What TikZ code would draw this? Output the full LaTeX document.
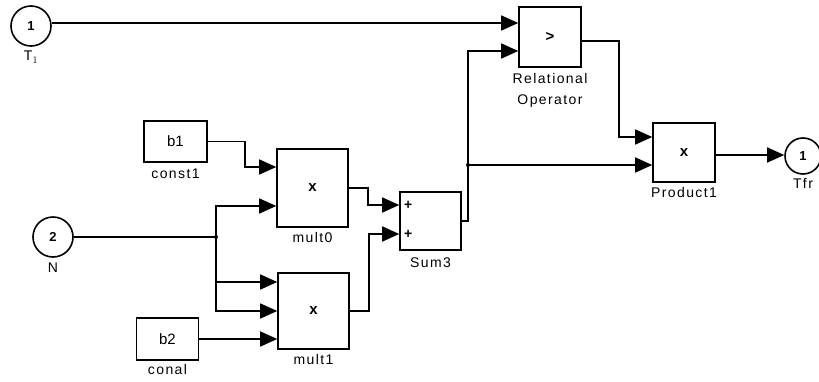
\documentclass[tikz,border=0pt]{standalone}
\usepackage{fontspec}
\setmainfont{Liberation Sans}
\newfontfamily\lblfont[LetterSpace=10]{Liberation Sans}
\usetikzlibrary{arrows.meta,positioning}
\begin{document}
\begin{tikzpicture}[x=1pt,y=-1pt,
  blk/.style={draw,line width=1.6pt,rectangle,inner sep=0pt,font=\fontsize{15}{17}\selectfont},
  port/.style={draw,line width=1.6pt,circle,inner sep=0pt,font=\fontsize{13}{15}\selectfont\bfseries},
  sig/.style={line width=1.6pt,-{Triangle[length=17pt,width=15pt]}},
  wire/.style={line width=1.6pt},
  lbl/.style={font=\lblfont\fontsize{14}{21}\selectfont,inner sep=1pt,text height=10pt,text depth=3pt},
  lbltwo/.style={font=\lblfont\fontsize{14}{21}\selectfont,inner sep=1pt,align=center},
  dot/.style={circle,fill,inner sep=0pt,minimum size=4pt}]
\useasboundingbox (0,0) rectangle (819,382);
% blocks
\node[port,minimum size=40pt] (in1) at (31,26) {1};
\node[lbl,below=3pt of in1] (in1l) {T$_1$};
\node[port,minimum size=40pt] (in2) at (53,237) {2};
\node[lbl,below=3pt of in2] (in2l) {N};
\node[blk,minimum width=62pt,minimum height=60pt] (rel) at (550,37) {\bfseries >};
\node[lbltwo,below=4pt of rel] (rell) {Relational\\Operator};
\node[blk,minimum width=62pt,minimum height=59pt] (prod) at (684,152.5) {\bfseries x};
\node[lbl,below=3pt of prod] (prodl) {Product1};
\node[port,minimum size=36pt] (out1) at (803,156) {1};
\node[lbl,below=3pt of out1] (out1l) {Tfr};
\node[blk,minimum width=61pt,minimum height=58pt] (sum) at (430.5,221) {};
\node[font=\fontsize{14}{15}\selectfont\bfseries,inner sep=0pt] (sp1) at ([xshift=9pt,yshift=16pt]sum.west) {+};
\node[font=\fontsize{14}{15}\selectfont\bfseries,inner sep=0pt] (sp2) at ([xshift=9pt,yshift=-13pt]sum.west) {+};
\node[lbl,below=5pt of sum] (suml) {Sum3};
\node[blk,minimum width=71pt,minimum height=78pt] (mult0) at (312.5,188) {\bfseries x};
\node[lbl,below=3pt of mult0] (mult0l) {mult0};
\node[blk,minimum width=71pt,minimum height=76pt] (mult1) at (313.5,311) {\bfseries x};
\node[lbl,below=3pt of mult1] (mult1l) {mult1};
\node[blk,minimum width=63pt,minimum height=41pt] (c1) at (175.5,141.5) {b1};
\node[lbl,below=5pt of c1] (c1l) {const1};
\node[blk,minimum width=62pt,minimum height=42pt] (c2) at (167.5,339) {b2};
\node[lbl,below=2pt of c2] (c2l) {conal};
% ports
\coordinate (ri1) at ([yshift=14pt]rel.west);
\coordinate (ri2) at ([yshift=-14pt]rel.west);
\coordinate (ro) at ([yshift=-4pt]rel.east);
\coordinate (pi1) at ([yshift=15.5pt]prod.west);
\coordinate (pi2) at ([yshift=-12.5pt]prod.west);
\coordinate (po) at ([yshift=-2.5pt]prod.east);
\coordinate (si1) at ([yshift=16pt]sum.west);
\coordinate (si2) at ([yshift=-13pt]sum.west);
\coordinate (m0i1) at ([yshift=21pt]mult0.west);
\coordinate (m0i2) at ([yshift=-18pt]mult0.west);
\coordinate (m1i1) at ([yshift=29pt]mult1.west);
\coordinate (m1i2) at ([yshift=0pt]mult1.west);
\coordinate (m1i3) at ([yshift=-28pt]mult1.west);
\coordinate (j) at (216,237);
\coordinate (k) at (468,165);
% connectors
\draw[sig] (in1.east |- ri1) -- (ri1);
\draw[sig] (c1.east) -- ++(37,0) |- (m0i1);
\draw[wire] (in2.east) -- (j);
\draw[sig] (j) |- (m0i2);
\draw[sig] (j) |- (m1i1);
\draw[sig] (j) |- (m1i2);
\draw[sig] (c2.east) -- (m1i3);
\draw[sig] (mult0.east) -- ++(19,0) |- (si1);
\draw[sig] (mult1.east) -- ++(19,0) |- (si2);
\draw[wire] (sum.east) -| (k);
\draw[sig] (k) |- (ri2);
\draw[sig] (k) -- (pi2);
\draw[sig] (ro) -- ++(37,0) |- (pi1);
\draw[sig] (po) -- (po -| out1.west);
\node[dot] (jd) at (j) {};
\node[dot] (kd) at (k) {};
\end{tikzpicture}
\end{document}
